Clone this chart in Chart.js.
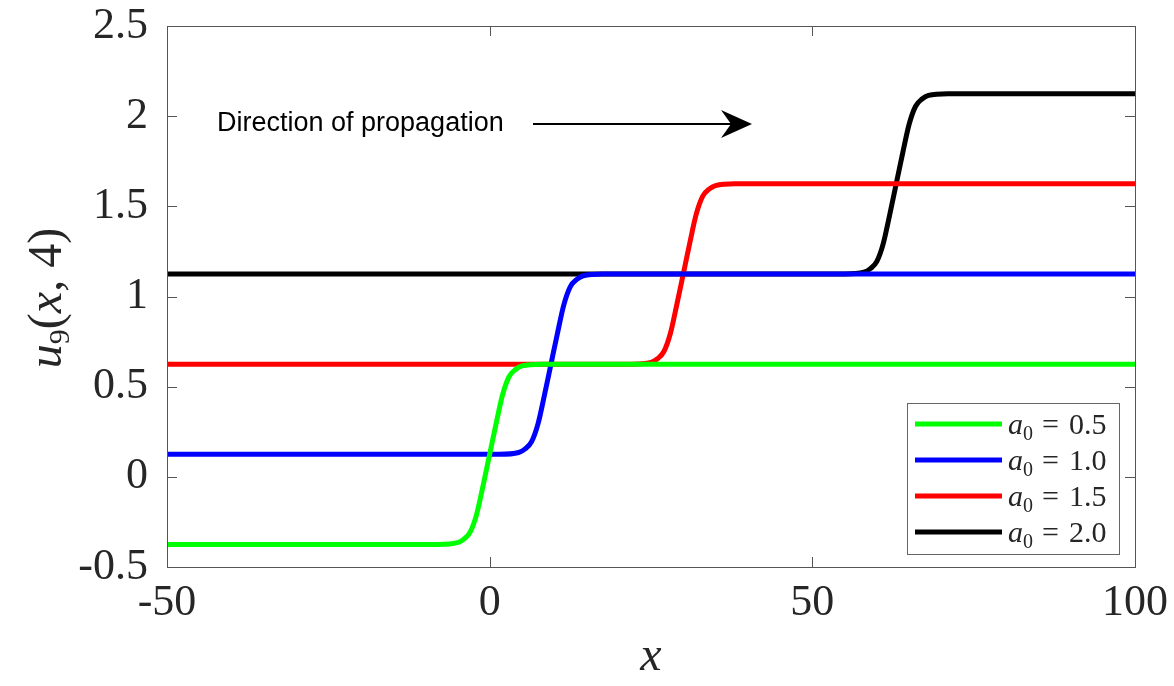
<!DOCTYPE html>
<html lang="en">
  <head>
    <meta charset="UTF-8" />
    <title>u9(x, 4)</title>
    <script src="https://cdn.jsdelivr.net/npm/chart.js"></script>
    <style>
      * {
        margin: 0;
        padding: 0;
        box-sizing: border-box;
      }
      body {
        background: #fff;
        width: 1174px;
        height: 686px;
        overflow: hidden;
      }
      .wrap {
        position: relative;
        width: 1174px;
        height: 686px;
      }
    </style>
  </head>
  <body>
    <div class="wrap">
      <canvas id="chart"></canvas>
    </div>

    <script>
      // values
      const xTicks = [-50, 0, 50, 100];
      const yTicks = [-0.5, 0, 0.5, 1, 1.5, 2, 2.5];
      const seriesLabels = ["0.5", "1.0", "1.5", "2.0"];
      const seriesColors = ["#00ff00", "#0000ff", "#ff0000", "#000000"];

      const xGreen = [-50, -8, -5, -4, -3, -2, -1, 0, 1, 2, 3, 4, 5, 8, 100];
      const yGreen = [-0.375, -0.375, -0.365, -0.345, -0.305, -0.205, -0.045, 0.125, 0.295, 0.455, 0.555, 0.595, 0.615, 0.625, 0.625];

      const xBlue = [-50, 1.5, 4.5, 5.5, 6.5, 7.5, 8.5, 9.5, 10.5, 11.5, 12.5, 13.5, 14.5, 17.5, 100];
      const yBlue = [0.125, 0.125, 0.135, 0.155, 0.195, 0.295, 0.455, 0.625, 0.795, 0.955, 1.055, 1.095, 1.115, 1.125, 1.125];

      const xRed = [-50, 22, 25, 26, 27, 28, 29, 30, 31, 32, 33, 34, 35, 38, 100];
      const yRed = [0.625, 0.625, 0.635, 0.655, 0.695, 0.795, 0.955, 1.125, 1.295, 1.455, 1.555, 1.595, 1.615, 1.625, 1.625];

      const xBlack = [-50, 55, 58, 59, 60, 61, 62, 63, 64, 65, 66, 67, 68, 71, 100];
      const yBlack = [1.125, 1.125, 1.135, 1.155, 1.195, 1.295, 1.455, 1.625, 1.795, 1.955, 2.055, 2.095, 2.115, 2.125, 2.125];

      const seriesX = [xGreen, xBlue, xRed, xBlack];
      const seriesY = [yGreen, yBlue, yRed, yBlack];

      const serif = "'Liberation Serif', 'Times New Roman', serif";
      const sans = "'Liberation Sans', Arial, sans-serif";

      const datasets = seriesX.map((xs, i) => ({
        label: "a0 = " + seriesLabels[i],
        data: xs.map((x, j) => ({ x: x, y: seriesY[i][j] })),
        showLine: true,
        borderColor: seriesColors[i],
        backgroundColor: seriesColors[i],
        borderWidth: 5,
        pointRadius: 0,
        cubicInterpolationMode: "monotone",
      }));

      // box, inward ticks, labels, annotation, legend
      const extras = {
        id: "extras",
        afterDraw(chart) {
          const ctx = chart.ctx;
          const a = chart.chartArea;
          const xs = chart.scales.x;
          const ys = chart.scales.y;
          ctx.save();

          // frame
          ctx.strokeStyle = "#555";
          ctx.lineWidth = 1;
          ctx.strokeRect(a.left + 0.5, a.top + 0.5, a.right - a.left, a.bottom - a.top);
          ctx.beginPath();
          xTicks.forEach((v) => {
            const px = Math.round(xs.getPixelForValue(v)) + 0.5;
            ctx.moveTo(px, a.bottom);
            ctx.lineTo(px, a.bottom - 10);
            ctx.moveTo(px, a.top);
            ctx.lineTo(px, a.top + 10);
          });
          yTicks.forEach((v) => {
            const py = Math.round(ys.getPixelForValue(v)) + 0.5;
            ctx.moveTo(a.left, py);
            ctx.lineTo(a.left + 10, py);
            ctx.moveTo(a.right, py);
            ctx.lineTo(a.right - 10, py);
          });
          ctx.stroke();

          // y title u_9(x, 4)
          ctx.save();
          ctx.translate(47, 298);
          ctx.rotate(-Math.PI / 2);
          ctx.fillStyle = "#262626";
          ctx.textBaseline = "alphabetic";
          const parts = [
            ["italic 48px " + serif, "u", 0],
            ["30px " + serif, "9", 8],
            ["48px " + serif, "(", 0],
            ["italic 48px " + serif, "x", 0],
            ["48px " + serif, ", 4)", 0],
          ];
          let w = 0;
          parts.forEach((p) => {
            ctx.font = p[0];
            w += ctx.measureText(p[1]).width;
          });
          let cx = -w / 2;
          parts.forEach((p) => {
            ctx.font = p[0];
            ctx.fillText(p[1], cx, 14 + p[2]);
            cx += ctx.measureText(p[1]).width;
          });
          ctx.restore();

          // annotation
          ctx.fillStyle = "#000";
          ctx.font = "27px " + sans;
          ctx.textBaseline = "middle";
          ctx.textAlign = "left";
          ctx.fillText("Direction of propagation", 217, 124);
          ctx.strokeStyle = "#000";
          ctx.lineWidth = 2;
          ctx.beginPath();
          ctx.moveTo(533, 124);
          ctx.lineTo(735, 124);
          ctx.stroke();
          ctx.beginPath();
          ctx.moveTo(752, 124);
          ctx.lineTo(721, 110);
          ctx.lineTo(731, 124);
          ctx.lineTo(721, 138);
          ctx.closePath();
          ctx.fill();

          // legend
          ctx.fillStyle = "#fff";
          ctx.fillRect(907, 403, 212, 151);
          ctx.strokeStyle = "#666";
          ctx.lineWidth = 1;
          ctx.strokeRect(907.5, 403.5, 212, 151);
          chart.data.datasets.forEach((ds, i) => {
            const y = 424 + i * 36;
            ctx.strokeStyle = ds.borderColor;
            ctx.lineWidth = 5;
            ctx.beginPath();
            ctx.moveTo(915, y);
            ctx.lineTo(1002, y);
            ctx.stroke();
            ctx.fillStyle = "#262626";
            ctx.textBaseline = "alphabetic";
            let tx = 1008;
            ctx.font = "italic 30px " + serif;
            ctx.fillText("a", tx, y + 10);
            tx += ctx.measureText("a").width;
            ctx.font = "20px " + serif;
            ctx.fillText("0", tx, y + 16);
            tx += ctx.measureText("0").width + 9;
            ctx.font = "30px " + serif;
            ctx.fillText("=", tx, y + 10);
            tx += ctx.measureText("=").width + 10;
            ctx.fillText(seriesLabels[i], tx, y + 10);
          });

          ctx.restore();
        },
      };

      new Chart(document.getElementById("chart"), {
        type: "scatter",
        data: { datasets: datasets },
        options: {
          responsive: true,
          maintainAspectRatio: false,
          animation: false,
          layout: { padding: { top: 26, right: 39, left: 0, bottom: 0 } },
          plugins: {
            legend: { display: false },
            tooltip: { enabled: false },
          },
          scales: {
            x: {
              type: "linear",
              min: -50,
              max: 100,
              afterFit: (s) => {
                s.height = 119;
                s.paddingLeft = 0;
                s.paddingRight = 0;
              },
              afterBuildTicks: (s) => { s.ticks = xTicks.map((v) => ({ value: v })); },
              ticks: {
                color: "#262626",
                padding: 10,
                font: { family: serif, size: 44 },
                callback: (v) => String(v),
              },
              grid: { display: false, drawTicks: false },
              border: { display: false },
              title: {
                display: true,
                text: "x",
                color: "#262626",
                padding: { top: 0, bottom: 0 },
                font: { family: serif, size: 48, style: "italic" },
              },
            },
            y: {
              type: "linear",
              min: -0.5,
              max: 2.5,
              afterFit: (s) => {
                s.width = 167;
                s.paddingTop = 0;
                s.paddingBottom = 0;
              },
              afterBuildTicks: (s) => { s.ticks = yTicks.map((v) => ({ value: v })); },
              ticks: {
                color: "#262626",
                padding: 19,
                font: { family: serif, size: 44 },
                callback: (v) => String(v),
              },
              grid: { display: false, drawTicks: false },
              border: { display: false },
            },
          },
        },
        plugins: [extras],
      });
    </script>
  </body>
</html>
